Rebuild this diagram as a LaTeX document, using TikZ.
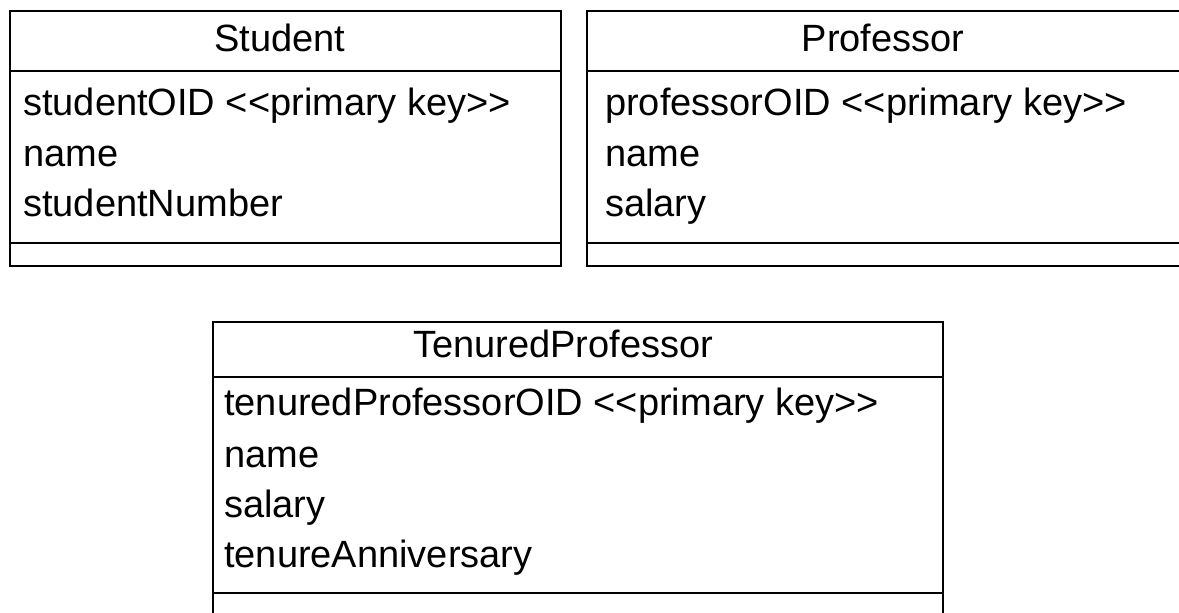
\documentclass[tikz,border=0pt]{standalone}
\usepackage{fontspec}
\setmainfont{Liberation Sans}[Ligatures=TeXOff]
\begin{document}
\begin{tikzpicture}[x=1pt,y=-1pt,
  classbox/.style={draw=black, line width=1.8pt, anchor=north west, inner sep=0pt},
  sepline/.style={draw=black, line width=1.8pt},
  label/.style={inner sep=0pt, anchor=base west, font=\fontsize{38}{46}\selectfont, text=black},
  title/.style={inner sep=0pt, anchor=base, font=\fontsize{38}{46}\selectfont, text=black}]
\useasboundingbox (0,0) rectangle (1179,613);
\begin{scope}
\clip (0,0) rectangle (1179,613);

% Student class
\node[classbox, minimum width=551pt, minimum height=255pt] (student) at (9,10) {};
\draw[sepline] ([yshift=-61pt]student.north west) -- ([yshift=-61pt]student.north east);
\draw[sepline] ([yshift=23.5pt]student.south west) -- ([yshift=23.5pt]student.south east);
\node[title] (studentT) at (280,51) {Student};
\node[label] (s1) at (23,115) {studentOID <<primary key>>};
\node[label] (s2) at (23,166) {name};
\node[label] (s3) at (23,216) {studentNumber};

% Professor class
\node[classbox, minimum width=596pt, minimum height=255pt] (prof) at (586,10) {};
\draw[sepline] ([yshift=-61pt]prof.north west) -- ([yshift=-61pt]prof.north east);
\draw[sepline] ([yshift=23.5pt]prof.south west) -- ([yshift=23.5pt]prof.south east);
\node[title] (profT) at (883,51) {Professor};
\node[label] (p1) at (605,115) {professorOID <<primary key>>};
\node[label] (p2) at (605,166) {name};
\node[label] (p3) at (605,216) {salary};

% TenuredProfessor class
\node[classbox, minimum width=730pt, minimum height=320pt] (ten) at (212,321) {};
\draw[sepline] ([yshift=-56pt]ten.north west) -- ([yshift=-56pt]ten.north east);
\draw[sepline] ([yshift=-272pt]ten.north west) -- ([yshift=-272pt]ten.north east);
\node[title] (tenT) at (563,357) {TenuredProfessor};
\node[label] (t1) at (224,415) {tenuredProfessorOID <<primary key>>};
\node[label] (t2) at (224,467) {name};
\node[label] (t3) at (224,517) {salary};
\node[label] (t4) at (224,567) {tenureAnniversary};
\end{scope}
\end{tikzpicture}
\end{document}
